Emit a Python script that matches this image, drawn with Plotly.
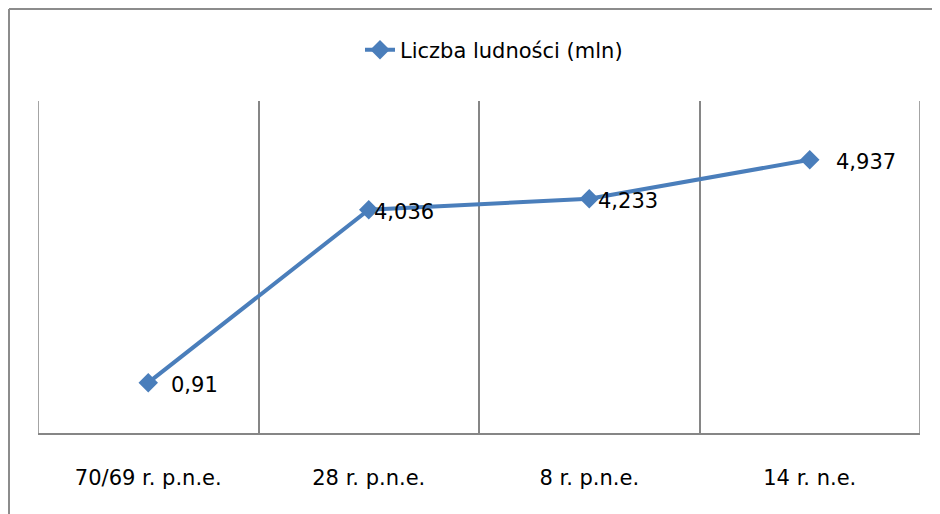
import plotly.graph_objects as go

categories = ["70/69 r. p.n.e.", "28 r. p.n.e.", "8 r. p.n.e.", "14 r. n.e."]
values = [0.91, 4.036, 4.233, 4.937]
value_labels = ["0,91", "4,036", "4,233", "4,937"]
series_name = "Liczba ludności (mln)"

label_xshift = [21, 3, 7, 24]

# page is shown with an 8px body offset
OFF = 8
W, H = 940 - OFF, 514 - OFF
ml, mt = 38 - OFF, 101 - OFF
mr = W - (920 - OFF)
mb = H - (433 - OFF)
pw, ph = W - ml - mr, H - mt - mb

color = "#4A7EBB"
grid = "#868686"
font_family = "DejaVu Sans"

fig = go.Figure()
fig.add_trace(go.Scatter(
    x=categories, y=values, mode="lines+markers", name=series_name,
    line=dict(color=color, width=4),
    marker=dict(symbol="diamond", size=15, color=color),
))

for c, v, t, dx in zip(categories, values, value_labels, label_xshift):
    fig.add_annotation(x=c, y=v, text=t, showarrow=False, xanchor="left",
                       yanchor="middle", xshift=dx, yshift=-2,
                       font=dict(family=font_family, size=21, color="#000000"))

# edge gridlines at the outer category boundaries
for xb in (-0.5, len(categories) - 0.5):
    fig.add_shape(type="line", xref="x", yref="paper", x0=xb, x1=xb, y0=0, y1=1,
                  line=dict(color=grid, width=1.5), layer="below")

# outer chart border (top and left edges; right and bottom lie outside the view)
bx = (9 - OFF - ml) / pw
by = 1 + (mt - (9 - OFF)) / ph
fig.add_shape(type="line", xref="paper", yref="paper", x0=bx, x1=(W - ml) / pw + 0.02,
              y0=by, y1=by, line=dict(color="#8C8C8C", width=2))
fig.add_shape(type="line", xref="paper", yref="paper", x0=bx, x1=bx,
              y0=by, y1=-mb / ph - 0.02, line=dict(color="#8C8C8C", width=2))

fig.update_layout(
    width=W, height=H,
    margin=dict(l=ml, r=mr, t=mt, b=mb),
    paper_bgcolor="white", plot_bgcolor="white",
    font=dict(family=font_family, size=21, color="#000000"),
    showlegend=True,
    legend=dict(orientation="h", x=(494 - OFF - ml) / pw, xanchor="center",
                y=1 + (mt - (50 - OFF)) / ph,
                yanchor="middle", font=dict(size=21), bgcolor="rgba(0,0,0,0)"),
    xaxis=dict(type="category", range=[-0.5, 3.5], tickson="boundaries",
               showgrid=True, gridcolor=grid, gridwidth=1.5,
               showline=True, linecolor=grid, linewidth=1.5,
               ticks="", ticklabelstandoff=25, tickfont=dict(size=21),
               zeroline=False),
    yaxis=dict(range=[0, 6], showgrid=False, showticklabels=False,
               zeroline=False, showline=False, ticks=""),
)

fig.write_html("out.html")
